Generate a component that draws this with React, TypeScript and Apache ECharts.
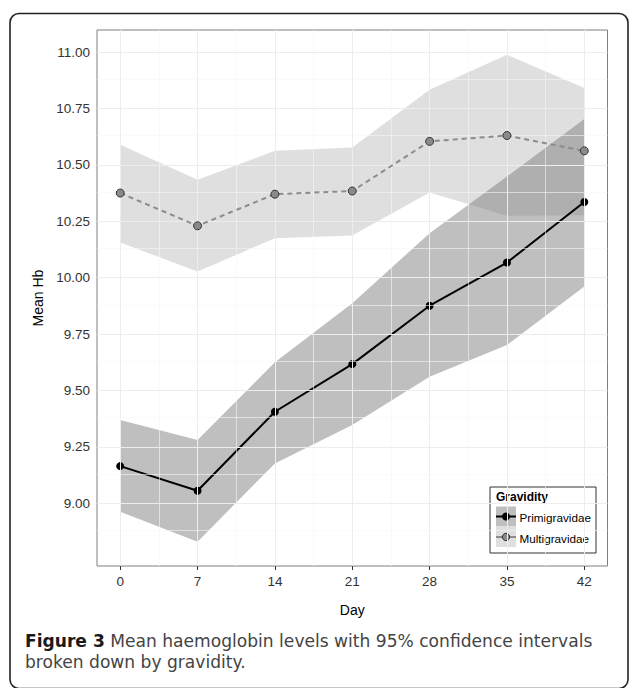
import React, { useEffect, useRef } from "react";
import * as echarts from "echarts";

const days = [0, 7, 14, 21, 28, 35, 42];
const primiMean = [9.165, 9.056, 9.406, 9.617, 9.876, 10.067, 10.335];
const primiLower = [8.963, 8.83, 9.177, 9.347, 9.561, 9.702, 9.961];
const primiUpper = [9.369, 9.281, 9.625, 9.887, 10.197, 10.448, 10.703];
const multiMean = [10.375, 10.23, 10.37, 10.384, 10.604, 10.63, 10.562];
const multiLower = [10.156, 10.027, 10.175, 10.187, 10.377, 10.274, 10.277];
const multiUpper = [10.589, 10.434, 10.562, 10.577, 10.833, 10.988, 10.84];

const yTicks = [9.0, 9.25, 9.5, 9.75, 10.0, 10.25, 10.5, 10.75, 11.0];
const xTicks = [0, 7, 14, 21, 28, 35, 42];
const yMinorGrid = [8.875, 9.125, 9.375, 9.625, 9.875, 10.125, 10.375, 10.625, 10.875];
const xMinorGrid = [3.5, 10.5, 17.5, 24.5, 31.5, 38.5];

const legendTitle = "Gravidity";
const seriesNames = ["Primigravidae", "Multigravidae"];
const xName = "Day";
const yName = "Mean Hb";
const captionBold = "Figure 3";
const captionLine1 = "Mean haemoglobin levels with 95% confidence intervals";
const captionLine2 = "broken down by gravidity.";

function bandSeries(lower: number[], upper: number[], fill: string, z: number) {
  return {
    type: "custom",
    z,
    silent: true,
    data: [0],
    renderItem: (_params: any, api: any) => {
      const pts: number[][] = [];
      for (let i = 0; i < days.length; i++) pts.push(api.coord([days[i], upper[i]]));
      for (let i = days.length - 1; i >= 0; i--) pts.push(api.coord([days[i], lower[i]]));
      return {
        type: "polygon",
        shape: { points: pts },
        style: { fill, stroke: "none" },
      };
    },
  };
}

export default function App() {
  const ref = useRef<HTMLDivElement>(null);
  useEffect(() => {
    if (!ref.current) return;
    const chart = echarts.init(ref.current, undefined, { renderer: "svg" });
    const font = "'Liberation Sans', Arial, Helvetica, sans-serif";
    const capFont = "'DejaVu Sans', sans-serif";
    const capSize = 17.1;
    let boldW = 80;
    let spaceW = 5;
    try {
      const ctx = document.createElement("canvas").getContext("2d");
      if (ctx) {
        ctx.font = `bold ${capSize}px 'DejaVu Sans'`;
        boldW = ctx.measureText(captionBold).width;
        ctx.font = `${capSize}px 'DejaVu Sans'`;
        spaceW = ctx.measureText(" ").width;
      }
    } catch (e) {}
    const solid = (color: string, width: number) => ({ color, width, type: "solid" as const });
    const gridLines = [
      ...xTicks.map((v) => ({ xAxis: v, lineStyle: solid("#ededed", 1) })),
      ...xMinorGrid.map((v) => ({ xAxis: v, lineStyle: solid("#f6f6f6", 0.6) })),
      ...yTicks.map((v) => ({ yAxis: v, lineStyle: solid("#ededed", 1) })),
      ...yMinorGrid.map((v) => ({ yAxis: v, lineStyle: solid("#f6f6f6", 0.6) })),
    ];
    const lx = 490;
    const ly = 487;
    chart.setOption({
      animation: false,
      grid: {
        left: 97,
        top: 30,
        right: 21.5,
        bottom: 122,
        show: true,
        borderColor: "#7f7f7f",
        borderWidth: 1,
        backgroundColor: "#fff",
      },
      xAxis: {
        type: "value",
        min: -2.1,
        max: 44.1,
        name: xName,
        nameLocation: "middle",
        nameGap: 37,
        nameTextStyle: { fontFamily: font, fontSize: 14, color: "#000" },
        axisLine: { show: false },
        splitLine: { show: false },
        axisTick: { show: true, customValues: xTicks, length: 4, lineStyle: { color: "#333" } },
        axisLabel: {
          customValues: xTicks,
          formatter: (v: number) => String(v),
          fontFamily: font,
          fontSize: 13.5,
          color: "#333",
          margin: 8,
        },
      },
      yAxis: {
        type: "value",
        min: 8.7225,
        max: 11.0975,
        name: yName,
        nameLocation: "middle",
        nameGap: 45,
        nameRotate: 90,
        nameTextStyle: { fontFamily: font, fontSize: 14, color: "#000" },
        axisLine: { show: false },
        splitLine: { show: false },
        axisTick: { show: true, customValues: yTicks, length: 4, lineStyle: { color: "#333" } },
        axisLabel: {
          customValues: yTicks,
          formatter: (v: number) => v.toFixed(2),
          fontFamily: font,
          fontSize: 13.5,
          color: "#333",
          margin: 7,
        },
      },
      series: [
        {
          type: "line",
          z: 0,
          silent: true,
          data: [],
          markLine: {
            silent: true,
            symbol: "none",
            label: { show: false },
            lineStyle: { type: "solid" },
            data: gridLines,
          },
        },
        bandSeries(primiLower, primiUpper, "rgba(0,0,0,0.25)", 1),
        bandSeries(multiLower, multiUpper, "rgba(127,127,127,0.25)", 2),
        {
          name: seriesNames[0],
          type: "line",
          z: 4,
          data: days.map((d, i) => [d, primiMean[i]]),
          lineStyle: { color: "#000", width: 2 },
          symbol: "circle",
          symbolSize: 8,
          itemStyle: { color: "#000" },
        },
        {
          name: seriesNames[1],
          type: "line",
          z: 5,
          data: days.map((d, i) => [d, multiMean[i]]),
          lineStyle: { color: "#8c8c8c", width: 2, type: [5, 4] },
          symbol: "circle",
          symbolSize: 8,
          itemStyle: { color: "#8a8a8a", borderColor: "#333", borderWidth: 1 },
        },
      ],
      graphic: [
        {
          type: "rect",
          shape: { x: 10, y: 13.5, width: 618, height: 675, r: 9 },
          style: { fill: "none", stroke: "#222", lineWidth: 1.6 },
          silent: true,
          z: 0,
        },
        {
          type: "group",
          z: 10,
          children: [
            {
              type: "rect",
              shape: { x: lx, y: ly, width: 106, height: 66 },
              style: { fill: "#fff", stroke: "#333", lineWidth: 1 },
            },
            {
              type: "text",
              x: lx + 6,
              y: ly + 10,
              style: {
                text: legendTitle,
                fontFamily: font,
                fontWeight: "bold",
                fontSize: 12,
                fill: "#000",
                verticalAlign: "middle",
              },
            },
            {
              type: "rect",
              shape: { x: lx + 6, y: ly + 19.5, width: 20, height: 20 },
              style: { fill: "#bfbfbf" },
            },
            {
              type: "line",
              shape: { x1: lx + 6, y1: ly + 29.5, x2: lx + 26, y2: ly + 29.5 },
              style: { stroke: "#000", lineWidth: 2 },
            },
            {
              type: "circle",
              shape: { cx: lx + 16, cy: ly + 29.5, r: 4 },
              style: { fill: "#000" },
            },
            {
              type: "rect",
              shape: { x: lx + 6, y: ly + 40, width: 20, height: 20 },
              style: { fill: "#dfdfdf" },
            },
            {
              type: "line",
              shape: { x1: lx + 6, y1: ly + 50, x2: lx + 26, y2: ly + 50 },
              style: { stroke: "#8c8c8c", lineWidth: 2 },
            },
            {
              type: "circle",
              shape: { cx: lx + 16, cy: ly + 50, r: 3.7 },
              style: { fill: "#8a8a8a", stroke: "#333", lineWidth: 1 },
            },
            {
              type: "text",
              x: lx + 29.5,
              y: ly + 30,
              style: {
                text: seriesNames[0],
                fontFamily: font,
                fontSize: 11.7,
                fill: "#000",
                verticalAlign: "middle",
              },
            },
            {
              type: "text",
              x: lx + 29.5,
              y: ly + 51,
              style: {
                text: seriesNames[1],
                fontFamily: font,
                fontSize: 11.7,
                fill: "#000",
                verticalAlign: "middle",
              },
            },
          ],
        },
        {
          type: "text",
          x: 25,
          y: 641,
          z: 10,
          style: {
            text: captionBold,
            verticalAlign: "middle",
            fontFamily: capFont,
            fontWeight: "bold",
            fontSize: capSize,
            lineHeight: 19,
            fill: "#1a1a1a",
          },
        },
        {
          type: "text",
          x: 25 + boldW + spaceW,
          y: 641,
          z: 10,
          style: {
            text: captionLine1,
            verticalAlign: "middle",
            fontFamily: capFont,
            fontSize: capSize,
            lineHeight: 19,
            fill: "#444",
          },
        },
        {
          type: "text",
          x: 25,
          y: 661.5,
          z: 10,
          style: {
            text: captionLine2,
            verticalAlign: "middle",
            fontFamily: capFont,
            fontSize: capSize,
            lineHeight: 19,
            fill: "#444",
          },
        },
      ],
    });
    return () => chart.dispose();
  }, []);
  return (
    <div
      ref={ref}
      style={{ position: "absolute", left: 0, top: 0, width: 629, height: 688 }}
    />
  );
}
